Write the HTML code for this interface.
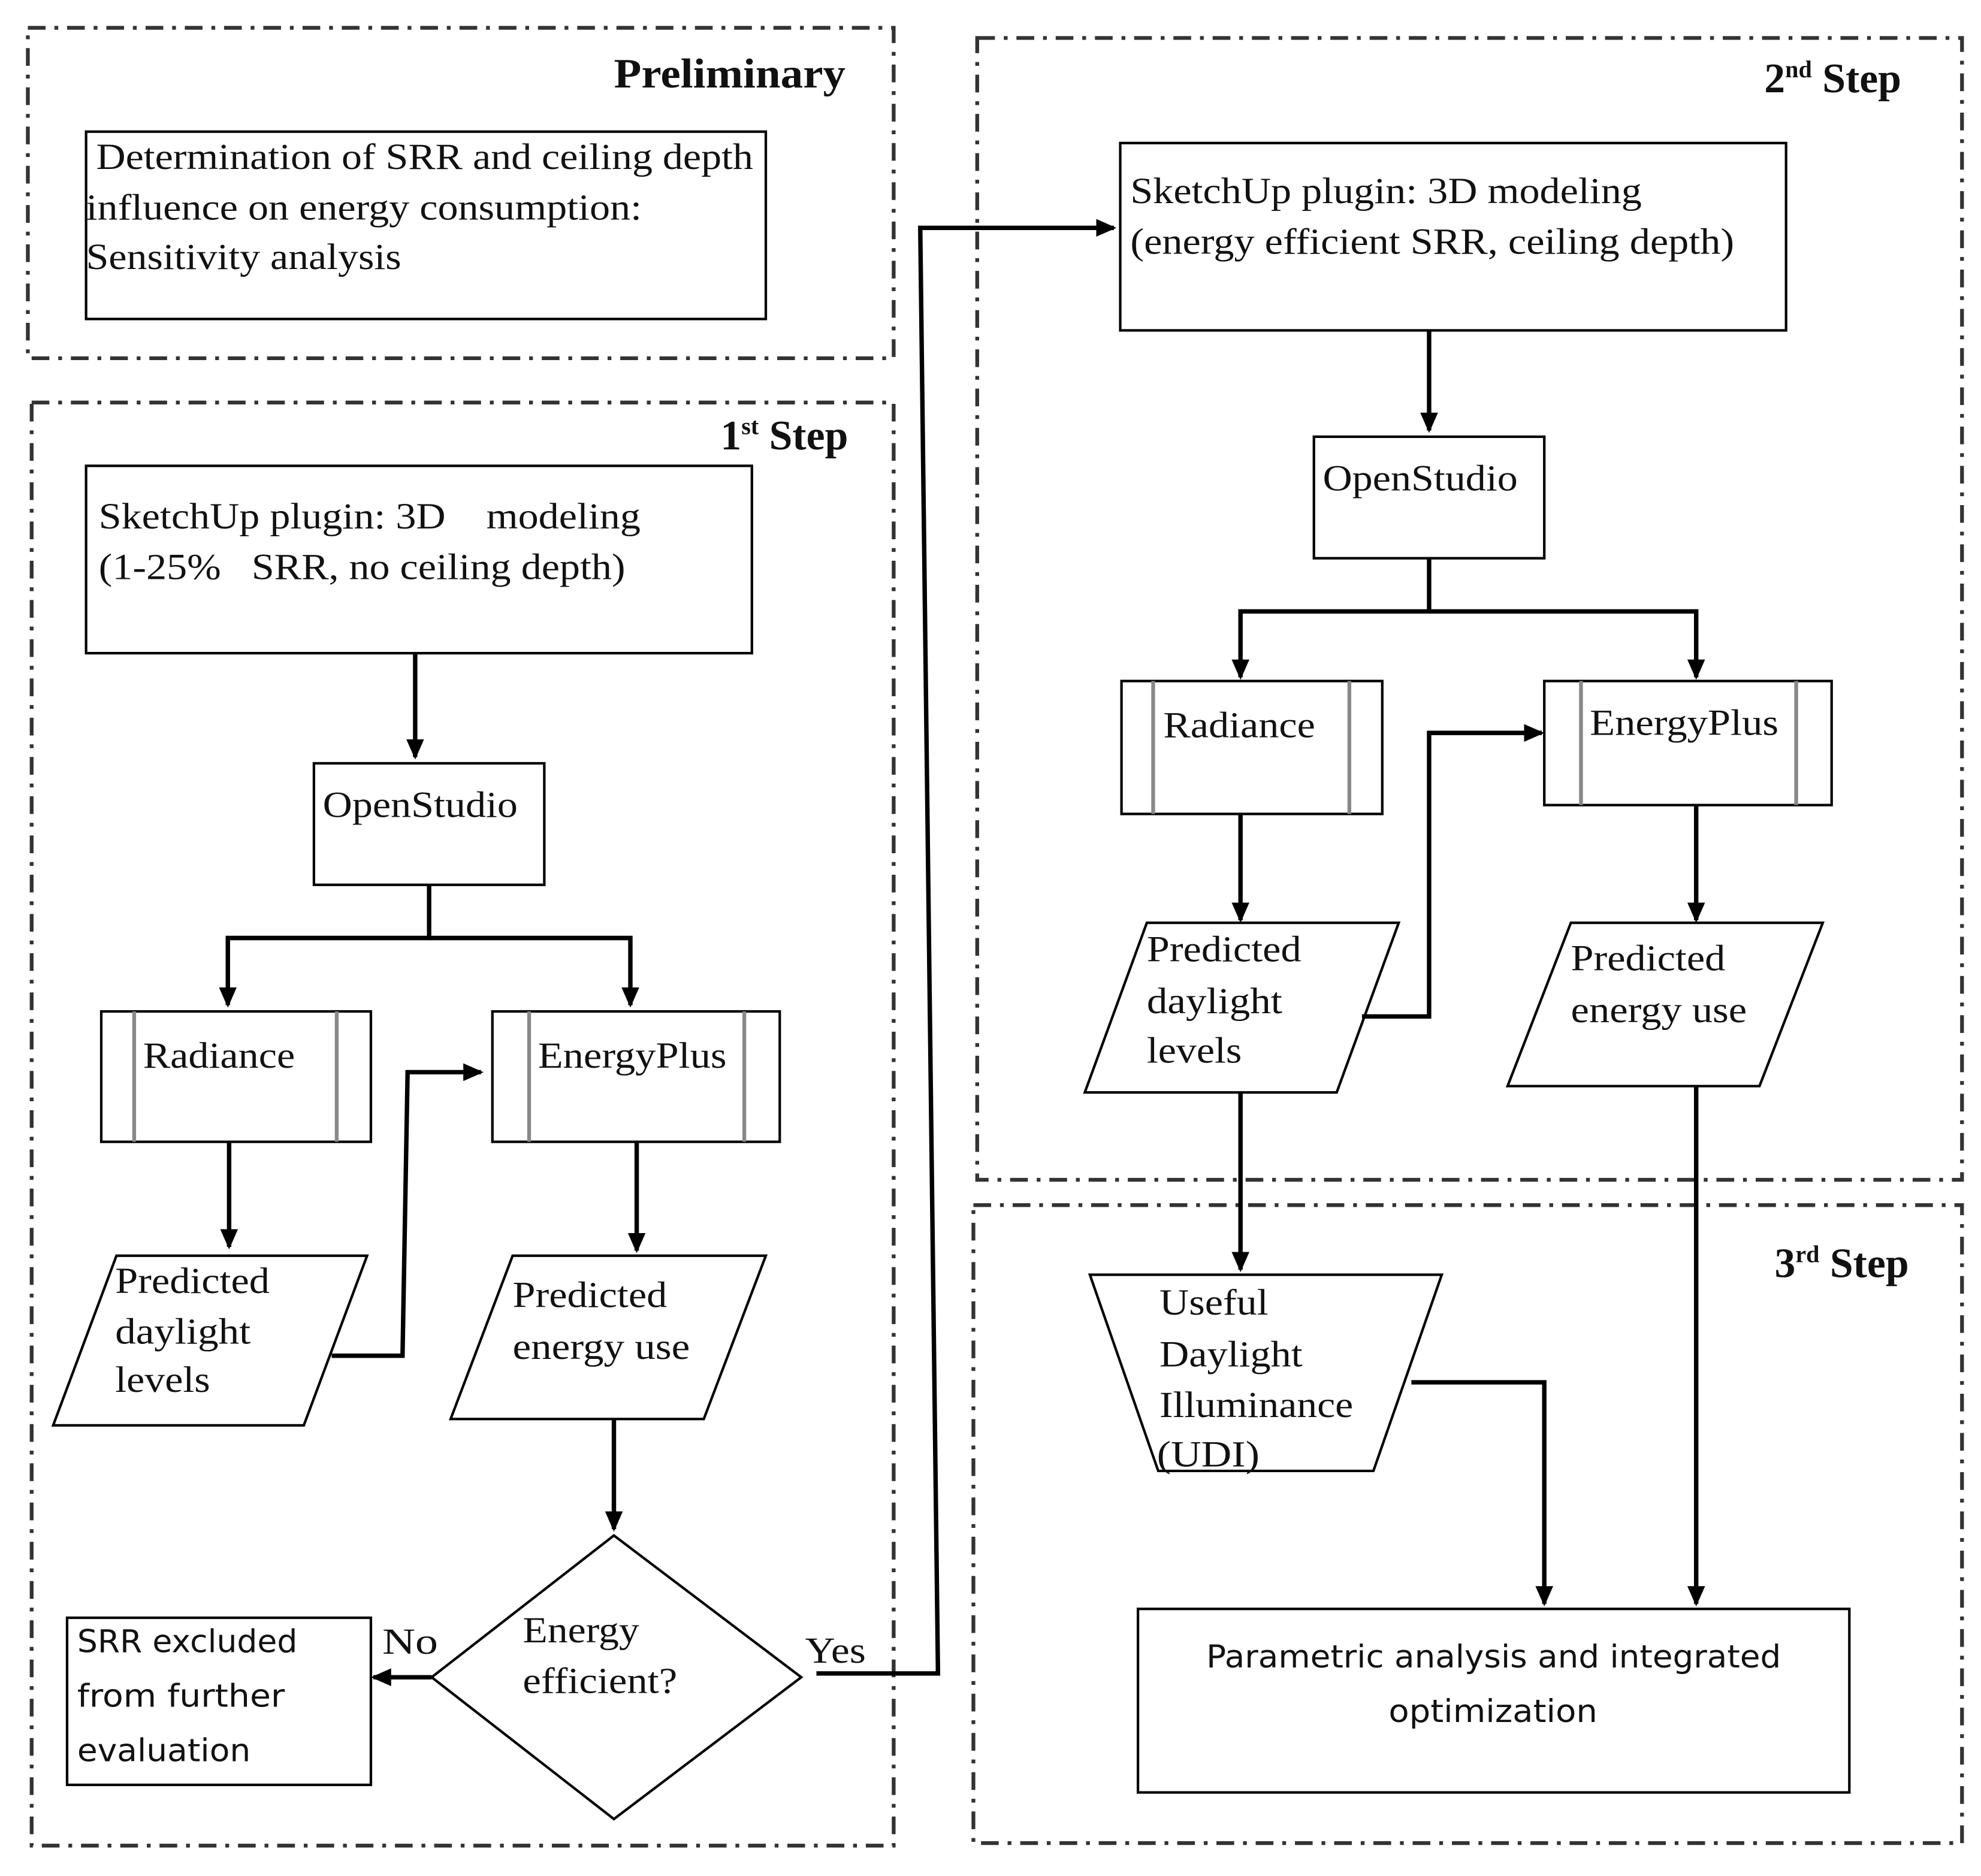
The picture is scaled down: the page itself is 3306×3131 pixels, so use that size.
<!DOCTYPE html>
<html><head><meta charset="utf-8"><style>html,body{margin:0;padding:0;background:#fff}svg{display:block}</style></head>
<body>
<svg width="3306" height="3131" viewBox="0 0 1565 1482" preserveAspectRatio="none" xmlns="http://www.w3.org/2000/svg">
<defs>
<marker id="b" markerWidth="16" markerHeight="16" refX="14" refY="8" orient="auto" markerUnits="userSpaceOnUse" viewBox="0 0 16 16">
<path d="M0,1 L16,8 L0,15 z" fill="#000"/></marker>
</defs>
<g fill="none" stroke="#333" stroke-width="3" stroke-dasharray="14 7 3 7">
<rect x="22" y="22" width="684" height="261"/>
<rect x="25" y="318" width="681" height="1140"/>
<rect x="772" y="30" width="778" height="902"/>
<rect x="769" y="952" width="781" height="504"/>
</g>
<g font-family="Liberation Serif, serif" font-weight="bold" font-size="33" text-anchor="end" fill="#111">
<text x="668" y="69" textLength="183" lengthAdjust="spacingAndGlyphs">Preliminary</text>
<text x="670" y="355">1<tspan font-size="19" dy="-12">st</tspan><tspan dy="12"> Step</tspan></text>
<text x="1502" y="73">2<tspan font-size="19" dy="-12">nd</tspan><tspan dy="12"> Step</tspan></text>
<text x="1508" y="1009">3<tspan font-size="19" dy="-12">rd</tspan><tspan dy="12"> Step</tspan></text>
</g>
<g fill="none" stroke="#000" stroke-width="2">
<rect x="68" y="104" width="537" height="148"/>
<rect x="68" y="368" width="526" height="148"/>
<rect x="248" y="603" width="182" height="96"/>
<rect x="80" y="799" width="213" height="103"/>
<rect x="389" y="799" width="227" height="103"/>
<polygon points="42,1126 92,992 290,992 240,1126"/>
<polygon points="356,1121 405,992 605,992 556,1121"/>
<polygon points="485,1213 633,1325 485,1437 341,1325"/>
<rect x="53" y="1278" width="240" height="132"/>
<rect x="885" y="113" width="526" height="148"/>
<rect x="1038" y="345" width="182" height="96"/>
<rect x="886" y="538" width="206" height="105"/>
<rect x="1220" y="538" width="227" height="98"/>
<polygon points="857,863 906,729 1105,729 1056,863"/>
<polygon points="1191,858 1241,729 1440,729 1390,858"/>
<polygon points="861,1007 1139,1007 1085,1162 915,1162"/>
<rect x="899" y="1271" width="562" height="145"/>
</g>
<g stroke="#888" stroke-width="3">
<line x1="106" y1="799" x2="106" y2="902"/><line x1="266" y1="799" x2="266" y2="902"/>
<line x1="418" y1="799" x2="418" y2="902"/><line x1="588" y1="799" x2="588" y2="902"/>
<line x1="911" y1="538" x2="911" y2="643"/><line x1="1066" y1="538" x2="1066" y2="643"/>
<line x1="1249" y1="538" x2="1249" y2="636"/><line x1="1419" y1="538" x2="1419" y2="636"/>
</g>
<g fill="none" stroke="#000" stroke-width="3.5" marker-end="url(#b)">
<path d="M328,516 V598"/>
<path d="M339,699 V741 H180 V794"/>
<path d="M339,741 H498 V794"/>
<path d="M181,902 V985"/>
<path d="M503,902 V988"/>
<path d="M262,1071 H318 L322,847 H380"/>
<path d="M485,1121 V1208"/>
<path d="M341,1325 H295"/>
<path d="M645,1322 H741 L727,180 H880"/>
<path d="M1129,261 V340"/>
<path d="M1129,441 V483 H980 V535"/>
<path d="M1129,483 H1340 V535"/>
<path d="M980,643 V727"/>
<path d="M1340,636 V727"/>
<path d="M1076,803 H1129 V579 H1218"/>
<path d="M980,863 V1003"/>
<path d="M1340,858 V1267"/>
<path d="M1115,1092 H1220 V1267"/>
</g>
<g font-family="Liberation Serif, serif" font-size="29" fill="#111" dominant-baseline="central" lengthAdjust="spacingAndGlyphs">
<text x="76" y="124" textLength="519" lengthAdjust="spacingAndGlyphs">Determination of SRR and ceiling depth</text>
<text x="68" y="164" textLength="439" lengthAdjust="spacingAndGlyphs">influence on energy consumption:</text>
<text x="68" y="203" textLength="249" lengthAdjust="spacingAndGlyphs">Sensitivity analysis</text>
<text x="78" y="408" xml:space="preserve" textLength="428" lengthAdjust="spacingAndGlyphs">SketchUp plugin: 3D    modeling</text>
<text x="78" y="448" xml:space="preserve" textLength="416" lengthAdjust="spacingAndGlyphs">(1-25%   SRR, no ceiling depth)</text>
<text x="255" y="636" textLength="154" lengthAdjust="spacingAndGlyphs">OpenStudio</text>
<text x="113" y="834" textLength="120" lengthAdjust="spacingAndGlyphs">Radiance</text>
<text x="425" y="834" textLength="149" lengthAdjust="spacingAndGlyphs">EnergyPlus</text>
<text x="91" y="1012" textLength="122" lengthAdjust="spacingAndGlyphs">Predicted</text>
<text x="91" y="1052" textLength="107" lengthAdjust="spacingAndGlyphs">daylight</text>
<text x="91" y="1090" textLength="75" lengthAdjust="spacingAndGlyphs">levels</text>
<text x="405" y="1023" textLength="122" lengthAdjust="spacingAndGlyphs">Predicted</text>
<text x="405" y="1064" textLength="140" lengthAdjust="spacingAndGlyphs">energy use</text>
<text x="413" y="1288" textLength="92" lengthAdjust="spacingAndGlyphs">Energy</text>
<text x="413" y="1328" textLength="122" lengthAdjust="spacingAndGlyphs">efficient?</text>
<text x="302" y="1297" textLength="44" lengthAdjust="spacingAndGlyphs">No</text>
<text x="636" y="1304" textLength="48" lengthAdjust="spacingAndGlyphs">Yes</text>
<text x="893" y="151" textLength="404" lengthAdjust="spacingAndGlyphs">SketchUp plugin: 3D modeling</text>
<text x="893" y="191" textLength="477" lengthAdjust="spacingAndGlyphs">(energy efficient SRR, ceiling depth)</text>
<text x="1045" y="378" textLength="154" lengthAdjust="spacingAndGlyphs">OpenStudio</text>
<text x="919" y="573" textLength="120" lengthAdjust="spacingAndGlyphs">Radiance</text>
<text x="1256" y="571" textLength="149" lengthAdjust="spacingAndGlyphs">EnergyPlus</text>
<text x="906" y="750" textLength="122" lengthAdjust="spacingAndGlyphs">Predicted</text>
<text x="906" y="791" textLength="107" lengthAdjust="spacingAndGlyphs">daylight</text>
<text x="906" y="830" textLength="75" lengthAdjust="spacingAndGlyphs">levels</text>
<text x="1241" y="757" textLength="122" lengthAdjust="spacingAndGlyphs">Predicted</text>
<text x="1241" y="798" textLength="139" lengthAdjust="spacingAndGlyphs">energy use</text>
<text x="916" y="1029" textLength="86" lengthAdjust="spacingAndGlyphs">Useful</text>
<text x="916" y="1070" textLength="113" lengthAdjust="spacingAndGlyphs">Daylight</text>
<text x="916" y="1110" textLength="153" lengthAdjust="spacingAndGlyphs">Illuminance</text>
<text x="914" y="1149" textLength="81" lengthAdjust="spacingAndGlyphs">(UDI)</text>
</g>
<g font-family="DejaVu Sans, Liberation Sans, sans-serif" font-size="25" fill="#111" dominant-baseline="central">
<text x="61" y="1297" textLength="174" lengthAdjust="spacingAndGlyphs">SRR excluded</text>
<text x="61" y="1340" textLength="164" lengthAdjust="spacingAndGlyphs">from further</text>
<text x="61" y="1383" textLength="137" lengthAdjust="spacingAndGlyphs">evaluation</text>
<text x="953" y="1309" textLength="454" lengthAdjust="spacingAndGlyphs">Parametric analysis and integrated</text>
<text x="1097" y="1352" textLength="165" lengthAdjust="spacingAndGlyphs">optimization</text>
</g>
</svg>
</body></html>
